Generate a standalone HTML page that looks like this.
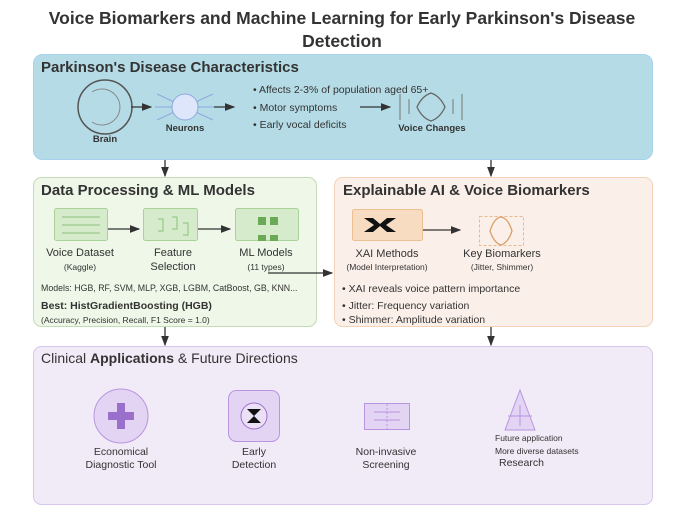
<!DOCTYPE html>
<html><head><meta charset="utf-8"><style>body{margin:0;background:#fff}svg{display:block}text{font-family:"Liberation Sans",sans-serif;fill:#333}</style></head><body>
<svg width="685" height="507" viewBox="0 0 685 507">
<defs><marker id="a" markerWidth="8" markerHeight="8" refX="7" refY="4" orient="auto"><path d="M0,1 L8,4 L0,7 z" fill="#333"/></marker></defs>
<text x="342" y="24" text-anchor="middle" font-size="17.5" font-weight="bold">Voice Biomarkers and Machine Learning for Early Parkinson's Disease</text>
<text x="342" y="47" text-anchor="middle" font-size="17.5" font-weight="bold">Detection</text>

<rect x="33.5" y="54.5" width="619" height="105" rx="9" fill="#b5dce6" stroke="#a6d2ee"/>
<text x="41" y="72" font-size="15" font-weight="bold">Parkinson's Disease Characteristics</text>
<circle cx="105" cy="107" r="27" fill="none" stroke="#555" stroke-width="1.5"/>
<path d="M92,92 A18,18 0 1 1 92,122" fill="none" stroke="#888" stroke-width="1"/>
<text x="105" y="142" text-anchor="middle" font-size="9.5" font-weight="bold">Brain</text>
<line x1="131" y1="107" x2="151" y2="107" stroke="#333" stroke-width="1.3" marker-end="url(#a)"/>
<g stroke="#8fa8e0" stroke-width="1"><line x1="155" y1="107" x2="215" y2="107"/><line x1="157" y1="94" x2="213" y2="120"/><line x1="157" y1="120" x2="213" y2="94"/></g>
<circle cx="185" cy="107" r="13" fill="#dde6fb" stroke="#8fa8e0"/>
<text x="185" y="131" text-anchor="middle" font-size="9.5" font-weight="bold">Neurons</text>
<line x1="214" y1="107" x2="234" y2="107" stroke="#333" stroke-width="1.3" marker-end="url(#a)"/>
<text x="253" y="93" font-size="10.5">• Affects 2-3% of population aged 65+</text>
<text x="253" y="111" font-size="10.5">• Motor symptoms</text>
<text x="253" y="128" font-size="10.5">• Early vocal deficits</text>
<line x1="360" y1="107" x2="390" y2="107" stroke="#333" stroke-width="1.3" marker-end="url(#a)"/>
<g stroke="#777" stroke-width="1"><line x1="400" y1="94" x2="400" y2="120"/><line x1="409" y1="99" x2="409" y2="114"/><line x1="453" y1="99" x2="453" y2="114"/><line x1="462" y1="94" x2="462" y2="120"/></g>
<path d="M431,93 Q440,96 445,107 Q440,118 431,121 Q422,118 417,107 Q422,96 431,93 z" fill="none" stroke="#666" stroke-width="1.3"/>
<text x="432" y="131" text-anchor="middle" font-size="9.5" font-weight="bold">Voice Changes</text>

<line x1="165" y1="160" x2="165" y2="176" stroke="#333" stroke-width="1.3" marker-end="url(#a)"/>
<line x1="491" y1="160" x2="491" y2="176" stroke="#333" stroke-width="1.3" marker-end="url(#a)"/>

<rect x="33.5" y="177.5" width="283" height="149" rx="8" fill="#eef7e8" stroke="#c3dcb3"/>
<text x="41" y="195" font-size="15" font-weight="bold">Data Processing &amp; ML Models</text>
<rect x="54.5" y="208.5" width="53" height="32" rx="2" fill="#d5ebcc" stroke="#a9d29a"/>
<g stroke="#8cc07a"><line x1="62" y1="217" x2="100" y2="217"/><line x1="62" y1="225" x2="100" y2="225"/><line x1="62" y1="233" x2="100" y2="233"/></g>
<line x1="108" y1="229" x2="139" y2="229" stroke="#333" stroke-width="1.3" marker-end="url(#a)"/>
<rect x="143.5" y="208.5" width="54" height="32" rx="2" fill="#d5ebcc" stroke="#a9d29a"/>
<g fill="none" stroke="#8cc07a"><path d="M158,219 h5 v12 h-5"/><path d="M172,217 h5 v12 h-5"/><path d="M183,223 h5 v12 h-5"/></g>
<line x1="198" y1="229" x2="230" y2="229" stroke="#333" stroke-width="1.3" marker-end="url(#a)"/>
<rect x="235.5" y="208.5" width="63" height="32" rx="2" fill="#d5ebcc" stroke="#a9d29a"/>
<g fill="#6aaa55"><rect x="258" y="217" width="8" height="8"/><rect x="270" y="217" width="8" height="8"/><rect x="258" y="235" width="8" height="6"/><rect x="270" y="235" width="8" height="6"/></g>
<text x="80" y="256" text-anchor="middle" font-size="11">Voice Dataset</text>
<text x="80" y="270" text-anchor="middle" font-size="8.5">(Kaggle)</text>
<text x="173" y="256" text-anchor="middle" font-size="11">Feature</text>
<text x="173" y="270" text-anchor="middle" font-size="11">Selection</text>
<text x="266" y="256" text-anchor="middle" font-size="11">ML Models</text>
<text x="266" y="270" text-anchor="middle" font-size="8.5">(11 types)</text>
<line x1="268" y1="273" x2="332" y2="273" stroke="#333" stroke-width="1.3" marker-end="url(#a)"/>
<text x="41" y="291" font-size="8.8">Models: HGB, RF, SVM, MLP, XGB, LGBM, CatBoost, GB, KNN...</text>
<text x="41" y="309" font-size="10.5" font-weight="bold">Best: HistGradientBoosting (HGB)</text>
<text x="41" y="323" font-size="8.5">(Accuracy, Precision, Recall, F1 Score = 1.0)</text>

<rect x="334.5" y="177.5" width="318" height="149" rx="8" fill="#fbf0e9" stroke="#f3d2b5"/>
<text x="343" y="195" font-size="15" font-weight="bold">Explainable AI &amp; Voice Biomarkers</text>
<rect x="352.5" y="209.5" width="70" height="31" rx="2" fill="#f7dcc2" stroke="#ecbf92"/>
<path d="M364,218 h9 l7,6 l7,-6 h9 l-10,7 l10,7 h-9 l-7,-6 l-7,6 h-9 l10,-7 z" fill="#111"/>
<line x1="423" y1="230" x2="460" y2="230" stroke="#333" stroke-width="1.3" marker-end="url(#a)"/>
<rect x="479.5" y="216.5" width="44" height="29" fill="none" stroke="#e8b88e" stroke-dasharray="3,2"/>
<path d="M501,217 Q508,218 512,231 Q508,243 501,245 Q494,243 490,231 Q494,218 501,217 z" fill="none" stroke="#d9a06a" stroke-width="1.3"/>
<text x="387" y="257" text-anchor="middle" font-size="11">XAI Methods</text>
<text x="387" y="270" text-anchor="middle" font-size="8.5">(Model Interpretation)</text>
<text x="502" y="257" text-anchor="middle" font-size="11">Key Biomarkers</text>
<text x="502" y="270" text-anchor="middle" font-size="8.5">(Jitter, Shimmer)</text>
<text x="342" y="292" font-size="10.5">• XAI reveals voice pattern importance</text>
<text x="342" y="309" font-size="10.5">• Jitter: Frequency variation</text>
<text x="342" y="323" font-size="10.5">• Shimmer: Amplitude variation</text>

<line x1="165" y1="327" x2="165" y2="345" stroke="#333" stroke-width="1.3" marker-end="url(#a)"/>
<line x1="491" y1="327" x2="491" y2="345" stroke="#333" stroke-width="1.3" marker-end="url(#a)"/>

<rect x="33.5" y="346.5" width="619" height="158" rx="8" fill="#f1eaf7" stroke="#d6c6ee"/>
<text x="41" y="363" font-size="14">Clinical <tspan font-weight="bold">Applications</tspan> &amp; Future Directions</text>
<circle cx="121" cy="416" r="27" fill="#e4d4f3" stroke="#b795e0"/>
<path d="M117,403 h8 v9 h9 v8 h-9 v9 h-8 v-9 h-9 v-8 h9 z" fill="#9b6fcc"/>
<text x="121" y="455" text-anchor="middle" font-size="10.5">Economical</text>
<text x="121" y="468" text-anchor="middle" font-size="10.5">Diagnostic Tool</text>
<rect x="228.5" y="390.5" width="51" height="51" rx="8" fill="#e4d4f3" stroke="#b795e0"/>
<circle cx="254" cy="416" r="13" fill="#ece0f7" stroke="#9b6fcc"/>
<path d="M247,409 h14 l-14,14 h14 z" fill="#111"/>
<text x="254" y="455" text-anchor="middle" font-size="10.5">Early</text>
<text x="254" y="468" text-anchor="middle" font-size="10.5">Detection</text>
<rect x="364.5" y="403.5" width="45" height="26" fill="#e4d4f3" stroke="#b795e0"/>
<g stroke="#b795e0"><line x1="374" y1="412" x2="400" y2="412"/><line x1="374" y1="420" x2="400" y2="420"/><line x1="387" y1="404" x2="387" y2="429" stroke-dasharray="2,2"/></g>
<text x="386" y="455" text-anchor="middle" font-size="10.5">Non-invasive</text>
<text x="386" y="468" text-anchor="middle" font-size="10.5">Screening</text>
<path d="M520,390 L535,430 L505,430 z" fill="#e4d4f3" stroke="#b795e0"/>
<g stroke="#b795e0"><line x1="520" y1="405" x2="520" y2="426"/><line x1="508" y1="416" x2="532" y2="416"/></g>
<text x="495" y="441" font-size="8.5">Future application</text>
<text x="495" y="454" font-size="8.5">More diverse datasets</text>
<text x="499" y="466" font-size="10.5">Research</text>
</svg>
</body></html>
